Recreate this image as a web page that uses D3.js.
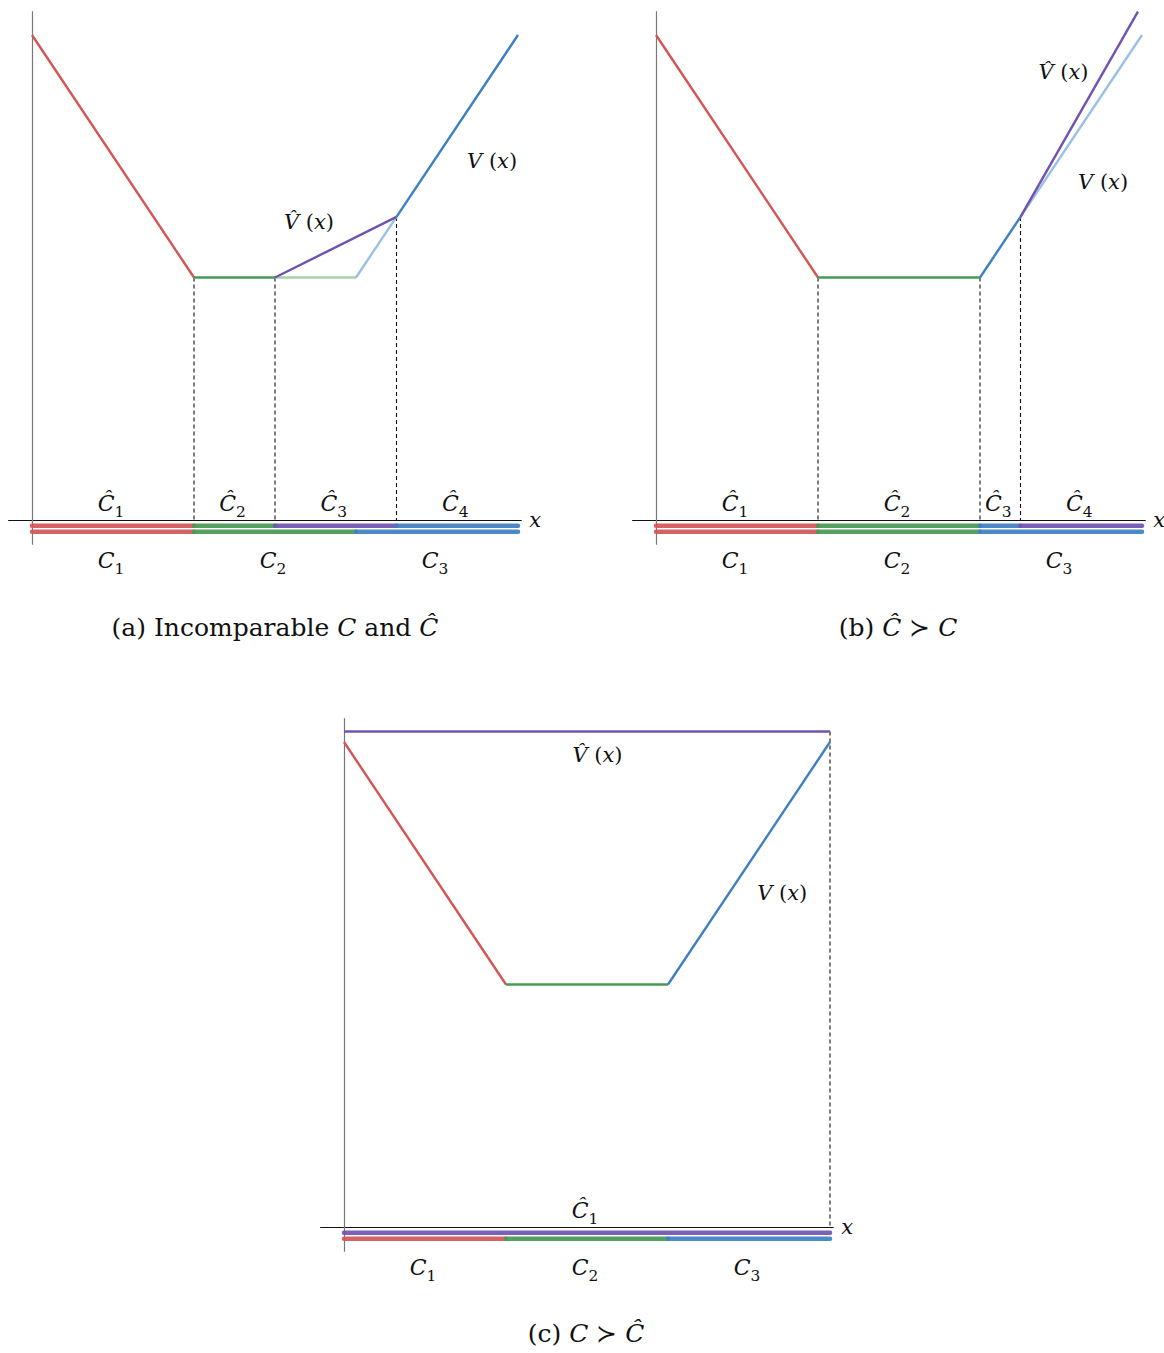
<!DOCTYPE html>
<html>
<head>
<meta charset="utf-8">
<script src="https://cdn.jsdelivr.net/npm/d3@7"></script>
<style>
  body { margin: 0; background: #fff; }
  text { font-family: "DejaVu Serif", "Liberation Serif", serif; fill: #111; }
</style>
</head>
<body>
<div id="chart"></div>
<script>
// value domain shared by all three panels
var xDomain = [0, 6];
var yDomain = [0, 6];

// cell breakpoints of the partitions C and C-hat
var cutsA_C = [0, 2, 4, 6];
var cutsA_Ch = [0, 2, 3, 4.5, 6];
var cutsB_C = [0, 2, 4, 6];
var cutsB_Ch = [0, 2, 4, 4.5, 6];
var cutsC_C = [0, 2, 4, 6];
var cutsC_Ch = [0, 6];

// which colour family each cell belongs to
var keysA_C = ["r", "g", "b"];
var keysA_Ch = ["r", "g", "p", "b"];
var keysB_C = ["r", "g", "b"];
var keysB_Ch = ["r", "g", "b", "p"];
var keysC_C = ["r", "g", "b"];
var keysC_Ch = ["p"];

// value function pieces: [x0, y0, x1, y1, key, faded]
var segA = [
  [0, 6, 2, 3, "r", false],
  [2, 3, 3, 3, "g", false],
  [3, 3, 4, 3, "g", true],
  [4, 3, 4.5, 3.75, "b", true],
  [4.5, 3.75, 6, 6, "b", false],
  [3, 3, 4.5, 3.75, "p", false]
];
var segB = [
  [0, 6, 2, 3, "r", false],
  [2, 3, 4, 3, "g", false],
  [4, 3, 4.5, 3.75, "b", false],
  [4.5, 3.75, 6, 6, "b", true],
  [4.5, 3.75, 5.95, 6.29, "p", false]
];
var segC = [
  [0, 6.13, 6, 6.13, "p", false],
  [0, 6, 2, 3, "r", false],
  [2, 3, 4, 3, "g", false],
  [4, 3, 6, 6, "b", false]
];

// dashed drop lines: [x, yTop]
var dropA = [[2, 3], [3, 3], [4.5, 3.75]];
var dropB = [[2, 3], [4, 3], [4.5, 3.75]];
var dropC = [[6, 6.13]];

// curve labels: [hat, x, y]
var vlabA = [[false, 5.68, 4.45], [true, 3.42, 3.7]];
var vlabB = [[true, 5.03, 5.55], [false, 5.52, 4.2]];
var vlabC = [[true, 3.13, 5.85], [false, 5.41, 4.15]];

var captions = ["(a) Incomparable ", "(b) ", "(c) "];

var colors = { r: "#d25656", g: "#479a55", b: "#3e7fc1", p: "#7053b1" };
var faded = { g: "#a9d1aa", b: "#9cc0e3" };

var W = 1164, H = 1353;
var svg = d3.select("#chart").append("svg")
  .attr("width", W).attr("height", H)
  .attr("xmlns", "http://www.w3.org/2000/svg");
svg.append("rect").attr("width", W).attr("height", H).attr("fill", "#fff");

function mathText(g, x, y, parts, size) {
  var t = g.append("text").attr("x", x).attr("y", y)
    .attr("text-anchor", "middle").style("font-size", size + "px");
  parts.forEach(function(p) {
    var s = t.append("tspan").text(p.t);
    if (p.it) s.style("font-style", "italic");
    if (p.sub) s.attr("dy", size * 0.28).style("font-size", (size * 0.7) + "px");
  });
  return t;
}

function drawPanel(left, axisY, cutsC, keysC, cutsCh, keysCh, segs, drops, vlabs) {
  var x = d3.scaleLinear().domain(xDomain).range([left, left + 486]);
  var y = d3.scaleLinear().domain(yDomain).range([axisY, axisY - 485]);
  var g = svg.append("g");

  // axes, no ticks
  var xa = d3.scaleLinear().domain([-0.3, 6.04]).range([x(-0.3), x(6.04)]);
  g.append("g").attr("transform", "translate(0," + axisY + ")")
    .call(d3.axisBottom(xa).tickValues([]).tickSizeOuter(0))
    .select(".domain").attr("stroke", "#111").attr("stroke-width", 1);
  var ya = d3.scaleLinear().domain([-0.3, 6.3]).range([y(-0.3), y(6.3)]);
  g.append("g").attr("transform", "translate(" + x(0) + ",0)")
    .call(d3.axisLeft(ya).tickValues([]).tickSizeOuter(0))
    .select(".domain").attr("stroke", "#777").attr("stroke-width", 1.2);

  mathText(g, x(6.04) + 14, axisY + 7, [{ t: "x", it: true }], 21);

  // dashed drops
  g.selectAll("line.drop").data(drops).enter().append("line")
    .attr("x1", function(d) { return x(d[0]); }).attr("x2", function(d) { return x(d[0]); })
    .attr("y1", function(d) { return y(d[1]); }).attr("y2", y(0))
    .attr("stroke", "#111").attr("stroke-width", 1.1).attr("stroke-dasharray", "4,3");

  // partition bars
  function bars(cuts, keys, off) {
    var cells = keys.map(function(k, i) { return [cuts[i], cuts[i + 1], k]; });
    g.selectAll(null).data(cells).enter().append("line")
      .attr("x1", function(d) { return x(d[0]); }).attr("x2", function(d) { return x(d[1]); })
      .attr("y1", axisY + off).attr("y2", axisY + off)
      .attr("stroke", function(d) { return colors[d[2]]; })
      .attr("stroke-width", 4.5).attr("stroke-linecap", "round").attr("opacity", 0.92);
    return cells;
  }
  var cellsCh = bars(cutsCh, keysCh, 5.8);
  var cellsC = bars(cutsC, keysC, 11.8);

  cellsCh.forEach(function(d, i) {
    mathText(g, x((d[0] + d[1]) / 2) - 2, axisY - 9,
      [{ t: "C\u0302", it: true }, { t: String(i + 1), sub: true }], 22);
  });
  cellsC.forEach(function(d, i) {
    mathText(g, x((d[0] + d[1]) / 2) - 2, axisY + 48,
      [{ t: "C", it: true }, { t: String(i + 1), sub: true }], 22);
  });

  // value function pieces, faded first
  var order = segs.slice().sort(function(a, b) { return (b[5] ? 1 : 0) - (a[5] ? 1 : 0); });
  g.selectAll(null).data(order).enter().append("line")
    .attr("x1", function(d) { return x(d[0]); }).attr("y1", function(d) { return y(d[1]); })
    .attr("x2", function(d) { return x(d[2]); }).attr("y2", function(d) { return y(d[3]); })
    .attr("stroke", function(d) { return d[5] ? faded[d[4]] : colors[d[4]]; })
    .attr("stroke-width", 2.4).attr("stroke-linecap", "butt");

  vlabs.forEach(function(d) {
    mathText(g, x(d[1]), y(d[2]) + 8, [
      { t: d[0] ? "V\u0302" : "V", it: true }, { t: " (" }, { t: "x", it: true }, { t: ")" }
    ], 21);
  });
  return x;
}

drawPanel(32, 520, cutsA_C, keysA_C, cutsA_Ch, keysA_Ch, segA, dropA, vlabA);
drawPanel(656, 520, cutsB_C, keysB_C, cutsB_Ch, keysB_Ch, segB, dropB, vlabB);
drawPanel(344, 1227, cutsC_C, keysC_C, cutsC_Ch, keysC_Ch, segC, dropC, vlabC);

function caption(cx, cy, parts) {
  var t = svg.append("text").attr("x", cx).attr("y", cy)
    .attr("text-anchor", "middle").style("font-size", "25px");
  parts.forEach(function(p) {
    var s = t.append("tspan").text(p.t);
    if (p.it) s.style("font-style", "italic");
  });
}
caption(275, 636, [{ t: captions[0] }, { t: "C", it: true }, { t: " and " }, { t: "C\u0302", it: true }]);
caption(898, 636, [{ t: captions[1] }, { t: "C\u0302", it: true }, { t: " \u227B " }, { t: "C", it: true }]);
caption(586, 1342, [{ t: captions[2] }, { t: "C", it: true }, { t: " \u227B " }, { t: "C\u0302", it: true }]);
</script>
</body>
</html>
